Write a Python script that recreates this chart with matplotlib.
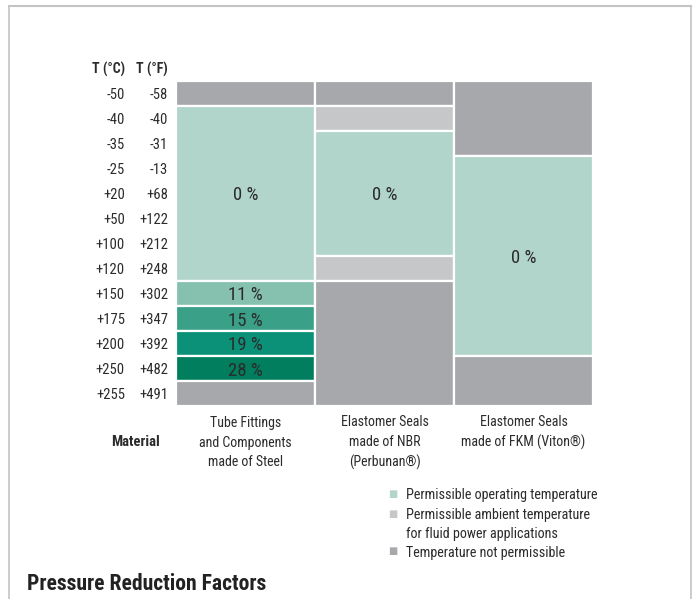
import matplotlib.pyplot as plt
from matplotlib.lines import Line2D
from matplotlib.transforms import blended_transform_factory

plt.rcParams['font.family'] = ['Liberation Sans Narrow', 'Roboto Condensed',
                               'DejaVu Sans Condensed', 'Liberation Sans', 'DejaVu Sans']

temp_c = ['-50', '-40', '-35', '-25', '+20', '+50', '+100', '+120',
          '+150', '+175', '+200', '+250', '+255']
temp_f = ['-58', '-40', '-31', '-13', '+68', '+122', '+212', '+248',
          '+302', '+347', '+392', '+482', '+491']
materials = ['Tube Fittings\nand Components\nmade of Steel',
             'Elastomer Seals\nmade of NBR\n(Perbunan®)',
             'Elastomer Seals\nmade of FKM (Viton®)']

# segments per material: (first row, last row + 1, kind, label)
steel = [(0, 1, 'no', ''), (1, 8, 'ok', '0 %'), (8, 9, 'r11', '11 %'),
         (9, 10, 'r15', '15 %'), (10, 11, 'r19', '19 %'),
         (11, 12, 'r28', '28 %'), (12, 13, 'no', '')]
nbr = [(0, 1, 'no', ''), (1, 2, 'amb', ''), (2, 7, 'ok', '0 %'),
       (7, 8, 'amb', ''), (8, 13, 'no', '')]
fkm = [(0, 3, 'no', ''), (3, 11, 'ok', '0 %'), (11, 13, 'no', '')]
segments = [steel, nbr, fkm]

colors = {'no': '#a7a8ab', 'amb': '#c6c7c9', 'ok': '#b1d5ca',
          'r11': '#86c1af', 'r15': '#3aa088', 'r19': '#0a9177', 'r28': '#007e5e'}

legend_labels = ['Permissible operating temperature',
                 'Permissible ambient temperature\nfor fluid power applications',
                 'Temperature not permissible']
legend_kinds = ['ok', 'amb', 'no']

W, H = 693, 599
fig = plt.figure(figsize=(W / 100, H / 100), dpi=100)
ax = fig.add_axes([176 / W, 1 - 406 / H, (593 - 176) / W, (406 - 81) / H])
ax.set_xlim(0, 3)
ax.set_ylim(13, 0)
ax.axis('off')

txt = '#2b2b2b'
for i, segs in enumerate(segments):
    for start, end, kind, lab in segs:
        ax.bar(i + 0.5, end - start, bottom=start, width=1, color=colors[kind],
               edgecolor='white', linewidth=1.6)
        if lab:
            ax.text(i + 0.5, (start + end) / 2, lab, ha='center',
                    va='center_baseline', fontsize=13.5, color=txt)

# row labels
tr = blended_transform_factory(fig.transFigure, ax.transData)
for r in range(len(temp_c)):
    ax.text(125 / W, r + 0.5, temp_c[r], transform=tr, ha='right',
            va='center_baseline', fontsize=10.5, color=txt)
    ax.text(168 / W, r + 0.5, temp_f[r], transform=tr, ha='right',
            va='center_baseline', fontsize=10.5, color=txt)
fig.text(125 / W, 1 - 68 / H, 'T (°C)', ha='right', va='center_baseline',
         fontsize=10, fontweight='bold', color=txt)
fig.text(168 / W, 1 - 68 / H, 'T (°F)', ha='right', va='center_baseline',
         fontsize=10, fontweight='bold', color=txt)

# material labels
tm = blended_transform_factory(ax.transData, fig.transFigure)
for i, m in enumerate(materials):
    for j, line in enumerate(m.split('\n')):
        ax.text(i + 0.5, 1 - (421 + 20 * j) / H, line, transform=tm,
                ha='center', va='center_baseline', fontsize=10, color=txt)
fig.text(160 / W, 1 - 441 / H, 'Material', ha='right', va='center_baseline',
         fontsize=10.5, fontweight='bold', color=txt)

# legend
leg_y = [494, 514, 551]
for k, lab, y in zip(legend_kinds, legend_labels, leg_y):
    fig.text(393 / W, 1 - y / H, '■', ha='center', va='center', fontsize=7,
             color=colors[k], family='DejaVu Sans')
    for j, line in enumerate(lab.split('\n')):
        fig.text(406 / W, 1 - (y + 18.5 * j) / H, line, ha='left',
                 va='center_baseline', fontsize=10.2, color=txt)

fig.text(27 / W, 1 - 581 / H, 'Pressure Reduction Factors', ha='left',
         va='center_baseline', fontsize=15.6, fontweight='bold', color='#222222')

# frame
fc = '#c4c4c4'
fig.add_artist(Line2D([9 / W, 691 / W], [1 - 6 / H, 1 - 6 / H], color=fc, lw=1.5))
fig.add_artist(Line2D([9 / W, 9 / W], [0, 1 - 6 / H], color=fc, lw=1.2))
fig.add_artist(Line2D([691 / W, 691 / W], [0, 1 - 6 / H], color=fc, lw=1.2))

fig.savefig('out.png', dpi=100)
